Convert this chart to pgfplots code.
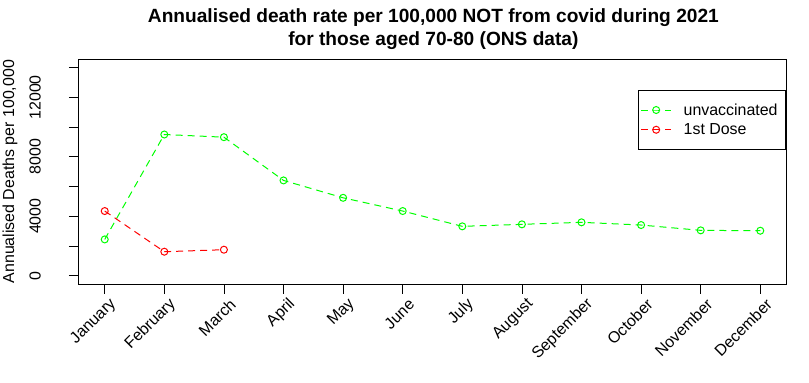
\documentclass[border=0pt]{standalone}
\usepackage{fontspec}
\setmainfont{Liberation Sans}
\usepackage{pgfplots}
\pgfplotsset{compat=1.18}
\definecolor{rgreen}{RGB}{0,255,0}
\definecolor{rred}{RGB}{255,0,0}
\begin{document}
\begin{tikzpicture}[x=1bp,y=1bp]
\path[use as bounding box] (-78.5,-98) rectangle (730.5,284);
\begin{axis}[
  at={(0,0)}, anchor=south west,
  scale only axis, width=708bp, height=224.7bp,
  xmin=0.56, xmax=12.44, ymin=-560, ymax=14560,
  scaled y ticks=false,
  xtick={1,2,3,4,5,6,7,8,9,10,11,12},
  xticklabels={January,February,March,April,May,June,July,August,September,October,November,December},
  ytick={0,2000,4000,6000,8000,10000,12000,14000},
  yticklabels={0,,4000,,8000,,12000,},
  tick align=outside, major tick length=9.6bp,
  tick style={black, line width=0.8bp},
  axis line style={line width=0.8bp},
  xtick pos=bottom, ytick pos=left,
  /pgf/number format/assume math mode=true,
  ticklabel style={font=\fontsize{16}{19}\selectfont},
  yticklabel style={xshift=-28bp, rotate=90, anchor=south, inner sep=0pt},
  xticklabel style={xshift=9bp, yshift=-8bp, rotate=45, anchor=east, inner sep=0pt},
  ylabel={Annualised Deaths per 100,000},
  ylabel style={at={(axis description cs:-0.0968,0.5)}, anchor=center, font=\fontsize{16}{19}\selectfont},
  legend style={at={(axis description cs:0.9993,0.863)}, anchor=north east,
    draw=black, line width=0.8bp, inner xsep=0bp, inner ysep=11bp,
    font=\fontsize{16}{19}\selectfont, nodes={inner sep=2bp}, row sep=3bp},
  legend cell align=left,
  legend image code/.code={\path (0bp,0bp) (42bp,0bp); \draw[#1, mark repeat=2, mark phase=2] plot coordinates {(2bp,0bp) (17bp,0bp) (32bp,0bp)};},
]
\addplot[color=rgreen, line width=1bp, dash pattern=on 7bp off 5bp, mark=o, mark size=3.5bp, mark options={solid}]
  coordinates {(1,2440) (2,9500) (3,9320) (4,6410) (5,5240) (6,4350) (7,3320) (8,3455) (9,3590) (10,3408) (11,3050) (12,3025)};
\addlegendentry{unvaccinated\kern6bp\mbox{}}
\addplot[color=rred, line width=1bp, dash pattern=on 7bp off 5bp, mark=o, mark size=3.5bp, mark options={solid}]
  coordinates {(1,4350) (2,1613) (3,1748)};
\addlegendentry{1st Dose}
\end{axis}
\node[anchor=base, font=\bfseries\fontsize{19.2}{23}\selectfont] at (354.9,261.5) {Annualised death rate per 100,000 NOT from covid during 2021};
\node[anchor=base, font=\bfseries\fontsize{19.2}{23}\selectfont] at (354.9,238.5) {for those aged 70-80 (ONS data)};
\end{tikzpicture}
\end{document}
